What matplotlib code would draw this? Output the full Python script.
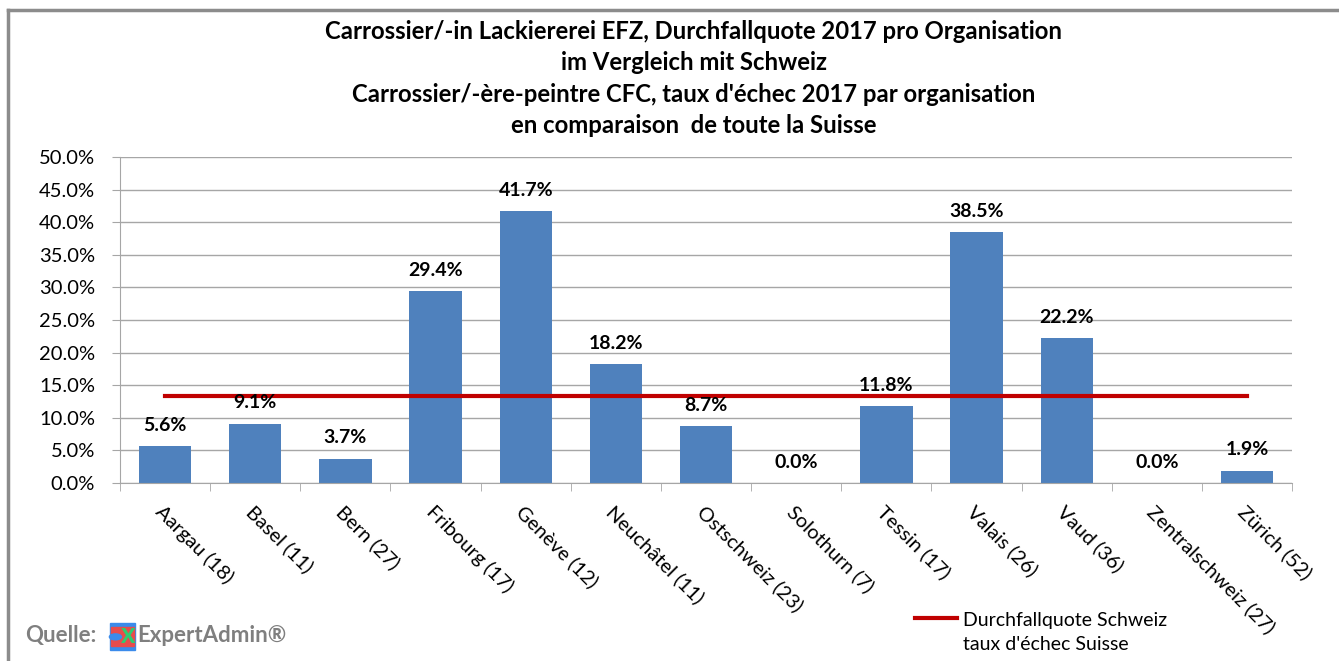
import matplotlib.pyplot as plt
from matplotlib.lines import Line2D
from matplotlib.patches import Rectangle, Circle
import numpy as np

plt.rcParams['font.family'] = ['Lato', 'DejaVu Sans']

categories = ['Aargau (18)', 'Basel (11)', 'Bern (27)', 'Fribourg (17)', 'Genève (12)',
              'Neuchâtel (11)', 'Ostschweiz (23)', 'Solothurn (7)', 'Tessin (17)',
              'Valais (26)', 'Vaud (36)', 'Zentralschweiz (27)', 'Zürich (52)']
rates = [5.6, 9.1, 3.7, 29.4, 41.7, 18.2, 8.7, 0.0, 11.8, 38.5, 22.2, 0.0, 1.9]
swiss_rate = 13.4

title = ('Carrossier/-in Lackiererei EFZ, Durchfallquote 2017 pro Organisation\n'
         'im Vergleich mit Schweiz\n'
         "Carrossier/-ère-peintre CFC, taux d'échec 2017 par organisation\n"
         'en comparaison  de toute la Suisse')

fig = plt.figure(figsize=(13.39, 6.61), dpi=100)
ax = fig.add_axes([0.0896, 0.2693, 0.8754, 0.4932])

x = np.arange(len(categories))
ax.bar(x, rates, width=0.58, color='#4f81bd', zorder=2)
ax.plot(x, [swiss_rate] * len(x), color='#c00000', lw=3, zorder=3)

for xi, v in zip(x, rates):
    ax.text(xi, v + 1.9, f'{v:.1f}%', ha='center', va='bottom', fontsize=14,
            fontweight='bold', zorder=4)

ax.set_xlim(-0.5, len(x) - 0.5)
ax.set_ylim(0, 50)
ax.set_yticks(np.arange(0, 50.1, 5))
ax.set_yticklabels([f'{t:.1f}%' for t in np.arange(0, 50.1, 5)], fontsize=14.5)
ax.yaxis.grid(True, color='#a6a6a6', lw=1, zorder=0)
ax.tick_params(axis='y', length=6, color='#a6a6a6', pad=12)
ax.set_xticks(x)
ax.set_xticklabels(categories, rotation=-45, ha='left', va='top',
                   rotation_mode='anchor', fontsize=14.5)
ax.tick_params(axis='x', which='major', length=0, pad=14)
ax.set_xticks(np.arange(-0.5, len(x), 1), minor=True)
ax.tick_params(axis='x', which='minor', length=6, color='#a6a6a6')
for s in ['top', 'right']:
    ax.spines[s].set_visible(False)
for s in ['left', 'bottom']:
    ax.spines[s].set_color('#a6a6a6')

fig.text(0.518, 0.97, title, ha='center', va='top', fontsize=17.2,
         fontweight='bold', linespacing=1.45)

# border of chart area
fig.add_artist(Line2D([0.006, 1.0], [0.985, 0.985], color='#8c8c8c', lw=2.5))
fig.add_artist(Line2D([0.006, 0.006], [0.0, 0.985], color='#8c8c8c', lw=2.5))

# legend
fig.add_artist(Line2D([0.6834, 0.7147], [0.065, 0.065], color='#c00000', lw=3))
fig.text(0.719, 0.043, 'Durchfallquote Schweiz\ntaux d\'échec Suisse', ha='left',
         va='center', fontsize=14, linespacing=1.5)

# source
fig.text(0.019, 0.038, 'Quelle:', ha='left', va='center', fontsize=16,
         fontweight='bold', color='#7f7f7f')
fig.add_artist(Rectangle((0.0822, 0.016), 0.0187, 0.041, color='#3b8beb',
                         transform=fig.transFigure))
fig.add_artist(Rectangle((0.0829, 0.022), 0.0173, 0.029, color='#e84c4c',
                         transform=fig.transFigure))
fig.add_artist(Circle((0.0862, 0.0365), 0.0045, color='#3b8beb',
                      transform=fig.transFigure))
fig.text(0.0955, 0.039, 'x', ha='center', va='center', fontsize=20,
         fontweight='bold', color='#2ecc71')
fig.text(0.1023, 0.038, 'ExpertAdmin®', ha='left', va='center', fontsize=16,
         fontweight='bold', color='#7f7f7f')

fig.savefig('out.png', dpi=100)
